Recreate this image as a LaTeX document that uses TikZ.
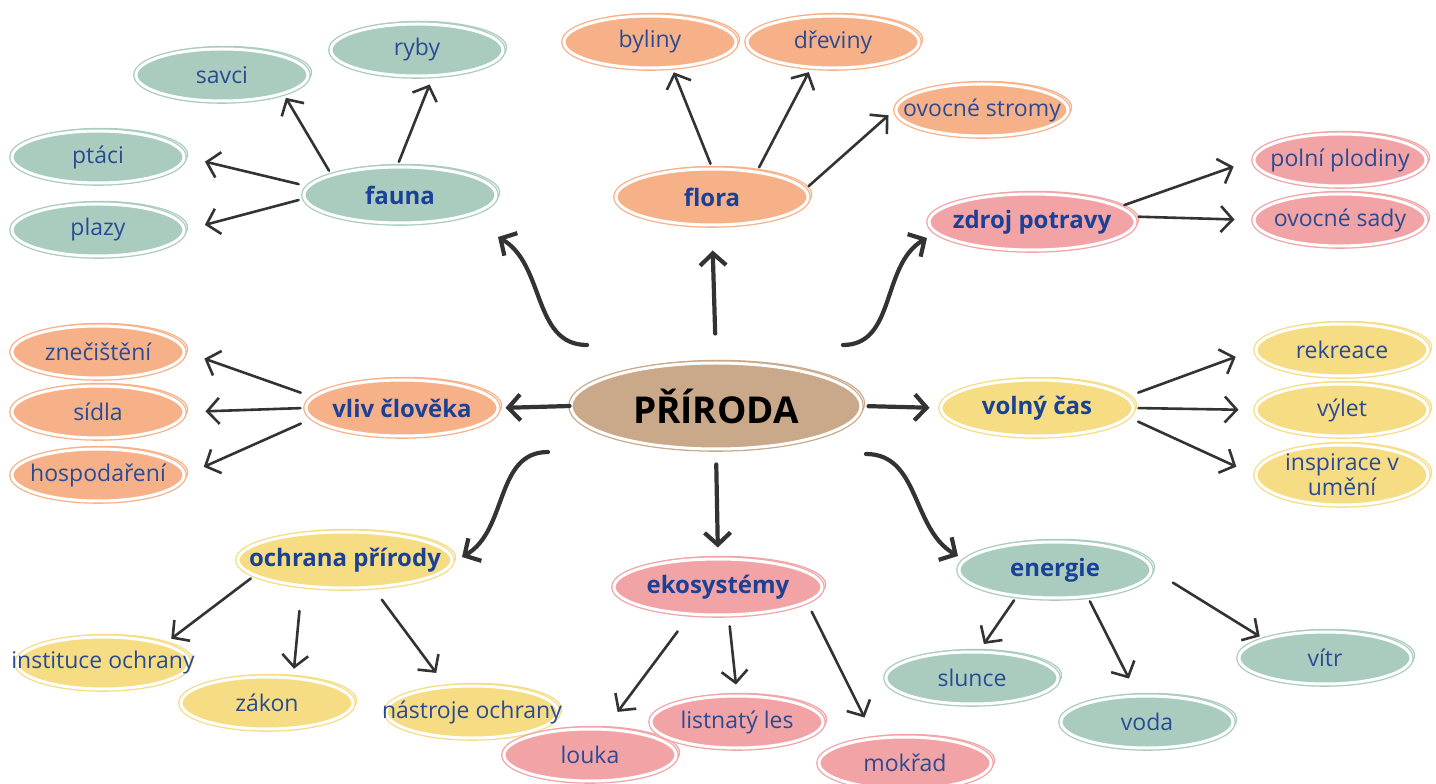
\documentclass[tikz,border=0pt]{standalone}
\usepackage{fontspec}
\setmainfont{Open Sans}
\usetikzlibrary{shapes.geometric,arrows.meta}
\definecolor{sage}{HTML}{A9CCBF}
\definecolor{peach}{HTML}{F7B189}
\definecolor{rose}{HTML}{F2A3A6}
\definecolor{sand}{HTML}{F6DC82}
\definecolor{tan}{HTML}{C9A98A}
\definecolor{hubink}{HTML}{1A4196}
\definecolor{leafink}{HTML}{2A4B94}
\definecolor{pen}{HTML}{333333}
\tikzset{
  blob/.style={ellipse, fill=#1, draw=white, line width=1.5pt,
    preaction={draw=#1, line width=0.6pt, transform canvas={shift={(1.8pt,1.3pt)}}},
    preaction={draw=#1, line width=2.8pt}},
  leaf/.style={blob=#1, font=\fontsize{11.5}{12.5}\selectfont, text=leafink, align=center,
    inner xsep=-18pt, inner ysep=-4pt, minimum width=86pt, minimum height=26pt},
  hub/.style={blob=#1, font=\fontsize{12}{14}\selectfont\bfseries, text=hubink,
    inner xsep=-22pt, inner ysep=-4pt, minimum width=96pt, minimum height=28pt},
  core/.style={blob=tan, font=\fontsize{18.5}{22}\selectfont\bfseries, text=black,
    inner sep=0pt, minimum width=145pt, minimum height=43pt},
  twig/.style={draw=pen, line width=1.3pt, line cap=round,
    -{Straight Barb[length=6pt, width=13pt]}, shorten <=2pt, shorten >=2pt},
  trunk/.style={draw=pen, line width=2.1pt, line cap=round,
    -{Straight Barb[length=6pt, width=13pt]}},
}
\begin{document}
\begin{tikzpicture}[x=0.5pt, y=0.5pt]
\useasboundingbox (0,0) rectangle (1436,783);

% ---------------- centre ----------------
\node[core] (prir) at (716,377) {PŘÍRODA};

% ---------------- topics ----------------
\node[hub=sage] (fauna) at (400,588) {fauna};
\node[hub=peach] (flora) at (712,586) {flora};
\node[hub=rose, minimum width=103pt] (zdroj) at (1032,561) {zdroj potravy};
\node[hub=peach] (vliv) at (402,375) {vliv člověka};
\node[hub=sand] (volny) at (1037,375) {volný čas};
\node[hub=sand, minimum width=107pt] (ochrana) at (345,223) {ochrana přírody};
\node[hub=rose, minimum width=104pt] (eko) at (718,196) {ekosystémy};
\node[hub=sage] (energie) at (1055,213) {energie};

% ---------------- subtopics ----------------
\node[leaf=sage] (savci) at (222,708) {savci};
\node[leaf=sage] (ryby) at (417,733) {ryby};
\node[leaf=sage] (ptaci) at (98,626) {ptáci};
\node[leaf=sage] (plazy) at (98,553) {plazy};
\node[leaf=peach] (byliny) at (650,741) {byliny};
\node[leaf=peach] (dreviny) at (833,741) {dřeviny};
\node[leaf=peach] (stromy) at (982,673) {ovocné stromy};
\node[leaf=rose] (polni) at (1340,623) {polní plodiny};
\node[leaf=rose] (sady) at (1340,563) {ovocné sady};
\node[leaf=peach] (znec) at (98,431) {znečištění};
\node[leaf=peach] (sidla) at (98,371) {sídla};
\node[leaf=peach] (hosp) at (98,308) {hospodaření};
\node[leaf=sand] (rekreace) at (1342,433) {rekreace};
\node[leaf=sand] (vylet) at (1342,373) {výlet};
\node[leaf=sand, minimum height=30pt] (inspirace) at (1342,308) {inspirace v\\umění};
\node[leaf=sand] (instituce) at (103,120) {instituce ochrany};
\node[leaf=sand] (zakon) at (267,80) {zákon};
\node[leaf=sand] (nastroje) at (472,71) {nástroje ochrany};
\node[leaf=rose] (louka) at (590,28) {louka};
\node[leaf=rose] (listnaty) at (737,61) {listnatý les};
\node[leaf=rose] (mokrad) at (905,20) {mokřad};
\node[leaf=sage] (slunce) at (972,105) {slunce};
\node[leaf=sage] (voda) at (1147,61) {voda};
\node[leaf=sage] (vitr) at (1325,125) {vítr};

% ---------------- arrows from the centre ----------------
\draw[trunk] ([shift={(-129,61)}]prir.center) to[out=180, in=-30] ([shift={(98,-42)}]fauna.center);
\draw[trunk, shorten <=14pt, shorten >=12pt] (prir.north) -- (flora.south);
\draw[trunk] ([shift={(127,61)}]prir.center) to[out=0, in=210] ([shift={(-105,-16)}]zdroj.center);
\draw[trunk, shorten >=3pt] (prir.west) -- (vliv.east);
\draw[trunk, shorten <=3pt, shorten >=5pt] (prir.east) -- (volny.west);
\draw[trunk] ([shift={(-168,-46)}]prir.center) to[out=180, in=30] ([shift={(117,3)}]ochrana.center);
\draw[trunk, shorten <=7pt, shorten >=5pt] (prir.south) -- (eko.north);
\draw[trunk] ([shift={(150,-48)}]prir.center) to[out=0, in=150] ([shift={(-97,14)}]energie.center);

% ---------------- arrows to subtopics ----------------
\draw[twig] (fauna.north west) -- (savci.south east);
\draw[twig, shorten >=4pt] (fauna.95) -- (ryby.-60);
\draw[twig, shorten >=10pt] ([yshift=5pt]fauna.west) -- (ptaci.east);
\draw[twig, shorten >=10pt] ([yshift=-2pt]fauna.west) -- (plazy.east);

\draw[twig] (flora.north) -- (byliny.-50);
\draw[twig] (flora.30) -- (dreviny.-130);
\draw[twig, shorten >=4pt] (flora.5) -- (stromy.west);

\draw[twig, shorten >=10pt] (zdroj.10) -- (polni.west);
\draw[twig, shorten >=9pt] (zdroj.3) -- (sady.west);

\draw[twig, shorten >=10pt] ([yshift=7pt]vliv.west) -- (znec.east);
\draw[twig, shorten >=10pt] (vliv.west) -- (sidla.east);
\draw[twig, shorten >=10pt] ([yshift=-7pt]vliv.west) -- (hosp.east);

\draw[twig, shorten >=10pt] ([yshift=7pt]volny.east) -- (rekreace.west);
\draw[twig, shorten >=8pt] (volny.east) -- (vylet.west);
\draw[twig, shorten >=10pt] ([yshift=-6pt]volny.east) -- (inspirace.west);

\draw[twig, shorten >=4pt] (ochrana.190) -- (instituce.north east);
\draw[twig, shorten <=12pt, shorten >=4pt] (ochrana.-148) -- (zakon.45);
\draw[twig, shorten <=7pt, shorten >=8pt] (ochrana.-45) -- (nastroje.135);

\draw[twig, shorten <=10pt, shorten >=10pt] (eko.-135) -- (louka.60);
\draw[twig, shorten <=5pt, shorten >=5pt] (eko.-70) -- (listnaty.north);
\draw[twig, shorten <=5pt, shorten >=11pt] (eko.-10) -- (mokrad.140);

\draw[twig, shorten >=4pt] (energie.-145) -- (slunce.75);
\draw[twig, shorten >=9pt] (energie.-40) -- (voda.110);
\draw[twig, shorten <=12pt] (energie.east) -- (vitr.north west);

\end{tikzpicture}
\end{document}
